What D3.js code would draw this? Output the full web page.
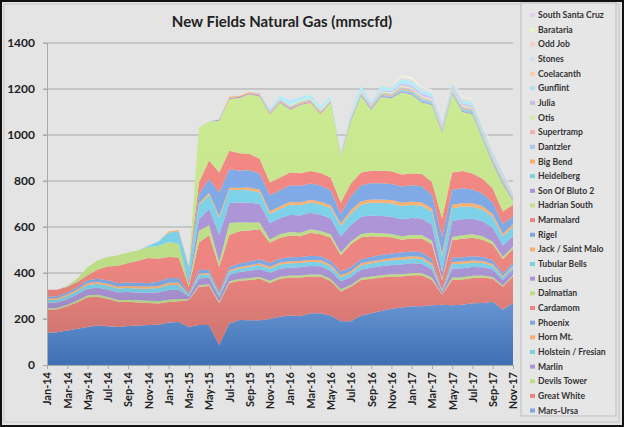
<!DOCTYPE html>
<html><head><meta charset="utf-8">
<script src="https://cdn.jsdelivr.net/npm/d3@7"></script>
<style>body{margin:0;background:#fff}svg{display:block;font-family:Lato,"Open Sans",sans-serif}</style>
</head><body><svg id="c" width="624" height="427"></svg>
<script>
const months = ["Jan-14","Feb-14","Mar-14","Apr-14","May-14","Jun-14","Jul-14","Aug-14","Sep-14","Oct-14","Nov-14","Dec-14",
"Jan-15","Feb-15","Mar-15","Apr-15","May-15","Jun-15","Jul-15","Aug-15","Sep-15","Oct-15","Nov-15","Dec-15",
"Jan-16","Feb-16","Mar-16","Apr-16","May-16","Jun-16","Jul-16","Aug-16","Sep-16","Oct-16","Nov-16","Dec-16",
"Jan-17","Feb-17","Mar-17","Apr-17","May-17","Jun-17","Jul-17","Aug-17","Sep-17","Oct-17","Nov-17"];
const yTicks = [0,200,400,600,800,1000,1200,1400];
const title = "New Fields Natural Gas (mmscfd)";

// stacking order: bottom first
const marsUrsa = [140,142,150,158,165,172,168,165,170,172,174,175,185,187,165,174,174,87,180,196,195,195,200,210,215,212,225,225,215,190,190,215,225,235,245,250,255,255,260,262,260,262,268,270,275,240,270];
const greatWhite = [100,100,105,115,130,125,120,110,105,100,96,92,89,90,118,166,170,183,177,170,175,180,157,165,165,168,160,160,150,130,150,155,150,145,140,135,135,135,110,45,110,110,110,110,100,100,115];
const devilsTower = [6,6,6,7,7,8,8,8,8,9,9,10,10,10,3,7,7,5,7,8,8,8,9,9,9,9,9,9,9,9,8,9,10,10,10,10,10,10,9,2,10,10,10,9,8,6,6];
const marlin = [25,25,26,28,30,31,32,33,34,34,35,38,42,40,12,29,28,20,28,30,32,34,35,35,35,36,36,35,35,35,34,36,38,39,40,42,42,40,36,8,39,39,38,36,32,24,24];
const holstein = [12,12,13,14,16,17,17,17,18,18,18,20,22,21,6,15,14,10,14,15,16,17,17,18,18,18,18,18,18,17,17,18,19,20,20,21,21,20,18,4,19,19,19,18,16,12,12];
const hornMt = [6,6,6,7,8,8,8,8,8,9,9,9,10,10,3,7,7,5,7,7,8,8,9,9,9,9,9,9,9,9,9,9,9,9,10,10,10,10,9,2,10,10,9,9,8,6,6];
const phoenix = [8,8,9,10,13,14,15,16,16,16,16,18,20,19,6,15,14,10,13,15,16,18,17,17,17,18,18,17,17,17,17,18,19,20,20,21,21,20,18,4,19,19,19,18,16,12,12];
const cardamom = [30,28,25,22,21,40,60,75,85,95,108,100,92,90,27,120,150,106,139,140,135,130,87,90,95,90,100,95,100,70,100,95,90,80,70,56,56,60,65,40,75,80,80,75,70,60,60];
const dalmatian = [0,0,5,15,35,40,42,45,45,45,48,55,65,60,10,50,45,20,52,40,35,30,15,15,15,15,15,15,15,12,12,15,15,15,15,15,15,15,15,8,15,15,15,15,12,10,10];
const lucius = [0,0,0,0,0,0,0,0,0,0,0,0,0,0,15,50,70,120,87,85,85,80,70,70,75,75,72,70,70,70,72,75,75,75,75,74,74,72,70,30,70,70,68,65,60,50,45];
const tubularBells = [0,0,0,0,0,0,0,0,0,0,5,20,40,55,60,60,60,73,57,55,55,50,40,40,45,45,45,45,45,45,50,52,55,57,57,57,57,55,55,70,55,55,52,50,45,40,40];
const jackStMalo = [0,0,0,0,0,0,0,0,0,0,0,0,5,5,5,10,10,10,10,10,12,12,12,12,12,12,12,12,12,12,15,15,15,15,15,15,15,15,15,12,15,15,15,15,15,12,12];
const rigel = [0,0,0,0,0,0,0,0,0,0,0,0,0,0,0,40,60,100,80,75,75,70,70,70,72,72,70,70,65,40,60,70,70,70,70,70,70,70,60,70,65,65,60,55,50,40,35];
const marmalard = [0,0,0,0,0,0,0,0,0,0,0,0,0,0,0,50,80,88,80,75,70,65,55,55,55,55,55,55,55,50,55,55,55,55,55,52,52,55,55,80,75,75,70,65,60,55,50];
const hadrianSouth = [0,0,0,0,0,0,0,0,0,0,0,0,0,0,0,240,170,225,225,240,260,270,297,325,273,296,296,255,325,199,271,333,264,320,318,357,342,308,335,373,338,256,257,170,108,118,15];
const sonOfBluto = [0,0,0,0,0,0,0,0,0,0,0,0,0,0,0,0,0,5,5,5,5,5,5,5,5,5,5,5,5,3,5,5,5,5,5,5,5,5,5,5,3,5,5,5,5,5,5];
const heidelberg = [0,0,0,0,0,0,0,0,0,0,0,0,0,0,0,0,0,0,0,0,0,0,0,0,0,0,0,0,0,0,5,5,5,5,5,8,8,8,8,8,8,8,8,8,8,8,5];
const bigBend = [0,0,0,0,0,0,0,0,0,0,0,0,0,0,0,0,0,0,5,5,5,5,5,5,5,5,5,5,3,5,5,3,5,5,5,5,5,5,3,5,5,5,5,5,5,5,3];
const dantzler = [0,0,0,0,0,0,0,0,0,0,0,0,0,0,0,0,0,0,0,0,0,5,5,5,5,5,5,5,3,5,5,3,5,5,5,5,5,5,3,5,5,5,5,5,5,3,5];
const supertramp = [0,0,0,0,0,0,0,0,0,0,0,0,0,0,0,0,0,0,0,0,0,0,0,0,0,0,0,0,0,0,0,0,0,0,0,2,2,2,2,2,2,2,2,2,2,2,2];
const otis = [0,0,0,0,0,0,0,0,0,0,0,0,0,0,0,0,0,0,0,0,0,0,0,0,5,5,5,5,5,3,5,5,3,5,5,5,5,5,5,5,5,5,5,5,5,5,3];
const julia = [0,0,0,0,0,0,0,0,0,0,0,0,0,0,0,0,0,0,0,0,0,0,0,0,0,0,0,0,0,0,0,5,5,5,5,10,10,10,10,8,10,8,8,8,8,8,5];
const gunflint = [0,0,0,0,0,0,0,0,0,0,0,0,0,0,0,0,0,0,0,0,0,0,10,15,20,15,15,15,15,5,15,20,5,20,15,20,20,15,15,10,15,15,15,15,15,15,5];
const coelacanth = [0,0,0,0,0,0,0,0,0,0,0,0,0,0,0,0,0,0,0,0,0,0,0,0,0,0,0,0,0,0,0,0,0,3,3,3,3,3,3,3,3,3,3,3,3,3,2];
const stones = [0,0,0,0,0,0,0,0,0,0,0,0,0,0,0,0,0,0,0,0,0,0,0,0,0,0,0,0,0,0,0,0,3,3,3,5,5,5,5,5,5,5,5,5,5,5,3];
const oddJob = [0,0,0,0,0,0,0,0,0,0,0,0,0,0,0,0,0,0,0,0,0,0,0,0,0,0,0,0,0,0,0,0,0,0,2,2,2,2,2,2,3,3,3,3,3,3,2];
const barataria = [0,0,0,0,0,0,0,0,0,0,0,0,0,0,0,0,0,0,0,0,0,0,0,0,0,0,0,0,0,0,0,0,0,0,0,5,5,5,5,5,5,5,5,5,5,5,3];
const southSantaCruz = [0,0,0,0,0,0,0,0,0,0,0,0,0,0,0,0,0,0,0,0,0,0,0,0,0,0,0,0,0,0,0,0,0,0,0,0,0,3,3,3,3,3,3,3,3,3,3];

const seriesNames = ["Mars-Ursa","Great White","Devils Tower","Marlin","Holstein / Fresian","Horn Mt.","Phoenix","Cardamom","Dalmatian","Lucius","Tubular Bells","Jack / Saint Malo","Rigel","Marmalard","Hadrian South","Son Of Bluto 2","Heidelberg","Big Bend","Dantzler","Supertramp","Otis","Julia","Gunflint","Coelacanth","Stones","Odd Job","Barataria","South Santa Cruz"];
const seriesValues = [marsUrsa,greatWhite,devilsTower,marlin,holstein,hornMt,phoenix,cardamom,dalmatian,lucius,tubularBells,jackStMalo,rigel,marmalard,hadrianSouth,sonOfBluto,heidelberg,bigBend,dantzler,supertramp,otis,julia,gunflint,coelacanth,stones,oddJob,barataria,southSantaCruz];
const palette = ["#7ea7e2","#ec8580","#bcdd86","#ab94d4","#7bcfe6","#f6ae72",
                 "#7ea7e2","#ec8580","#bcdd86","#ab94d4","#7bcfe6","#f6ae72",
                 "#7ea7e2","#ec8580","#c3e28c","#ab94d4","#7bcfe6","#f6ae72",
                 "#aac6ee","#f3b1ad","#d6eba9","#c9bce6","#ade2f0","#f9cda6",
                 "#cfdff5","#f7cdca","#eaf5c6","#ddd5ef"];

const svg = d3.select("#c");
svg.append("rect").attr("x",1).attr("y",1).attr("width",622).attr("height",425).attr("fill","#e4e4e4").attr("stroke","#111").attr("stroke-width",2);
svg.append("rect").attr("x",4).attr("y",4).attr("width",615).attr("height",418).attr("fill","none").attr("stroke","#c4c4c4").attr("stroke-width",1);

const x0 = 47, x1 = 513, yTop = 43, yBot = 365;
const x = d3.scalePoint().domain(months).range([x0,x1]);
const y = d3.scaleLinear().domain([0,1400]).range([yBot,yTop]);

svg.append("text").attr("x",282).attr("y",27).attr("text-anchor","middle").attr("font-size",15).attr("font-weight","bold").attr("fill","#222").text(title);

svg.append("g").selectAll("line").data(yTicks.slice(1)).join("line")
  .attr("x1",x0-4).attr("x2",x1).attr("y1",d=>y(d)).attr("y2",d=>y(d)).attr("stroke","#a8a8a8").attr("stroke-width",1.2);

const table = months.map((m,i)=>{const o={m}; seriesNames.forEach((n,j)=>o[n]=seriesValues[j][i]); return o;});
const stack = d3.stack().keys(seriesNames)(table);
const defs = svg.append("defs");
palette.forEach((c,i)=>{
  const g = defs.append("linearGradient").attr("id","g"+i).attr("gradientUnits","userSpaceOnUse").attr("x1",0).attr("x2",0).attr("y1",yTop).attr("y2",yBot);
  g.append("stop").attr("offset","0").attr("stop-color",d3.color(c).brighter(0.15));
  g.append("stop").attr("offset","0.7").attr("stop-color",c);
  g.append("stop").attr("offset","1").attr("stop-color",i===0?"#3e70b3":d3.color(c).darker(0.5));
});
const area = d3.area().x(d=>x(d.data.m)).y0(d=>y(d[0])).y1(d=>y(d[1]));
svg.append("g").selectAll("path").data(stack).join("path").attr("d",area).attr("fill",(d,i)=>`url(#g${i})`);

const ya = svg.append("g").attr("transform",`translate(${x0},0)`).call(d3.axisLeft(y).tickValues(yTicks).tickFormat(d3.format("d")).tickSize(4).tickPadding(8));
ya.selectAll("text").attr("font-size",12).attr("font-weight","bold").attr("fill","#222").attr("font-family","Lato,sans-serif");
ya.selectAll("line,path").attr("stroke","#a8a8a8");
const xa = svg.append("g").attr("transform",`translate(0,${yBot})`).call(d3.axisBottom(x).tickValues(months.filter((m,i)=>i%2===0)).tickSize(4));
xa.selectAll("line,path").attr("stroke","#a8a8a8");
xa.selectAll("text").attr("transform","rotate(-90)").attr("text-anchor","end").attr("x",-7).attr("y",0).attr("dy","0.35em")
  .attr("font-size",11).attr("font-weight","bold").attr("fill","#222").attr("font-family","Lato,sans-serif");

svg.append("rect").attr("x",521).attr("y",3).attr("width",95).attr("height",413).attr("fill","#e6e6e6").attr("stroke","#bdbdbd");
const leg = svg.append("g");
const order = seriesNames.map((n,i)=>i).reverse();
order.forEach((si,k)=>{
  const yy = 15 + k*14.65;
  leg.append("rect").attr("x",530).attr("y",yy-2).attr("width",5).attr("height",4).attr("fill",palette[si]);
  leg.append("text").attr("x",538).attr("y",yy).attr("dy","0.35em").attr("font-size",8.6).attr("font-weight","bold").attr("fill","#333").text(seriesNames[si]);
});
</script></body></html>
